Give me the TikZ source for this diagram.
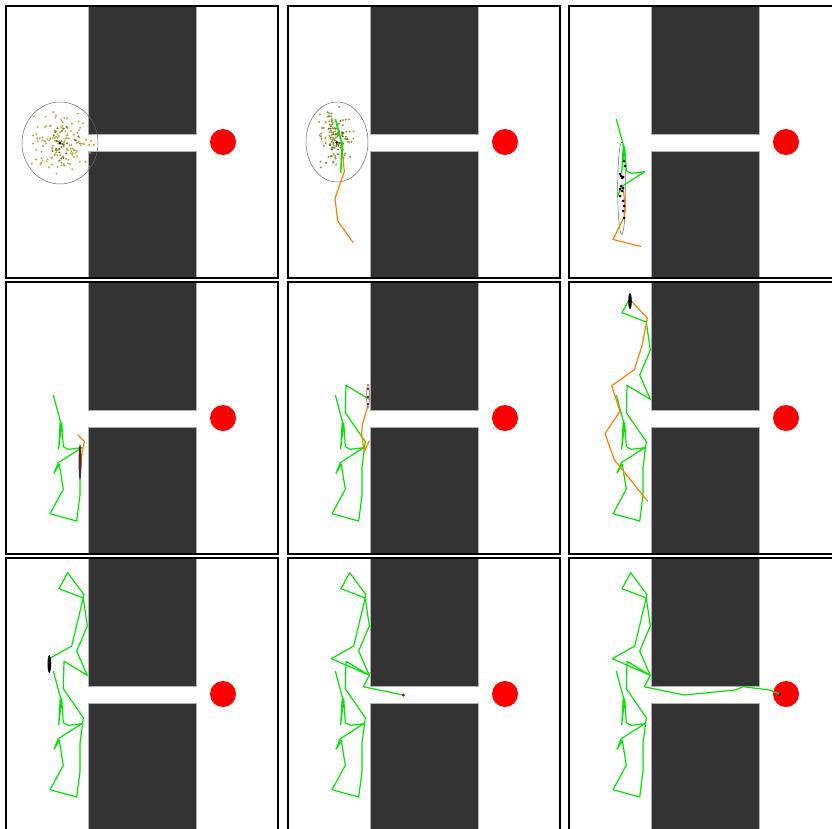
\documentclass[tikz,border=0pt]{standalone}
\usepackage{xcolor}
\usepackage{tikz}
\usetikzlibrary{calc}
\definecolor{wallgray}{HTML}{333333}
\definecolor{edgegray}{HTML}{B0B0B0}
\definecolor{goalred}{HTML}{FF0000}
\definecolor{pathgreen}{HTML}{00E600}
\definecolor{planorange}{HTML}{FF7F00}
\definecolor{particleolive}{HTML}{B5AE3E}
\definecolor{darkolive}{HTML}{6E6B25}
\definecolor{beliefgray}{HTML}{6A6A6A}
\definecolor{robotred}{HTML}{9A0F0F}
\tikzset{
  frameline/.style={draw=black,line width=2pt},
  wall/.style={fill=wallgray,draw=edgegray,line width=0.9pt},
  goal/.style={fill=goalred},
  executed/.style={pathgreen,line width=1.2pt,line join=round},
  planned/.style={planorange,line width=1.2pt,line join=round},
  belief/.style={draw=beliefgray,line width=0.5pt},
  particle/.style={fill=particleolive},
  darkparticle/.style={fill=darkolive},
  estimate/.style={fill=black}
}
% executed walk, cut where each snapshot ends
\newcommand{\walkA}{(47.3,113) -- (54.3,139) -- (52.7,166.7)}
\newcommand{\walkB}{-- (55.7,140.7) -- (57.3,164.7) -- (62.3,167.3) -- (75.7,165.7) -- (52.3,180.7) -- (48,191.3)}
\newcommand{\walkC}{-- (53.3,182.3) -- (57.3,207.3) -- (44,231.7) -- (70.7,239) -- (74,213.3) -- (74,185.7)}
\newcommand{\walkD}{-- (77.3,159.7) -- (57.3,130.7) -- (58,103.3) -- (81.3,117.3)}
\newcommand{\walkE}{-- (70.7,93) -- (81.3,68) -- (77.3,40) -- (53,30.7) -- (61.7,14.7)}
\newcommand{\walkF}{-- (78,36.7) -- (65.7,88) -- (43.3,100.7)}
\newcommand{\walkG}{-- (81.3,117.3) -- (75.3,128.7) -- (82.7,130.3) -- (115.3,137)}
\newcommand{\walkH}{-- (166,132) -- (174.3,128.7) -- (201,132) -- (211,136.3)}

\begin{document}
\begin{tikzpicture}[x=1pt,y=-1pt]
  \clip (0,0) rectangle (832,828);
  \fill[white] (0,0) rectangle (832,828);
  % the corridor with its slit, nine times
  \foreach \px/\py in {6/6,288/6,569/6,6/282,288/282,569/282,6/558,288/558,569/558}{
    \begin{scope}[shift={(\px,\py)}]
      \draw[wall] (82,0) rectangle (190,128);
      \draw[wall] (82,145) rectangle (190,272);
      \fill[goal] (217,136) circle (13);
      \draw[frameline] (0,0) rectangle (272,272);
    \end{scope}
  }

  % snapshot 1: initial particle cloud
  \begin{scope}[shift={(6,6)}]
    \begin{scope}
      \clip (54,137) ellipse [x radius=37,y radius=40];
      \pgfmathsetseed{11}
      \foreach \k in {1,...,130}{
        \pgfmathsetmacro\dx{33*(rand+rand)/2}
        \pgfmathsetmacro\dy{36*(rand+rand)/2}
        \fill[particle] (54,137) ++(\dx,\dy) circle (1.1);
      }
      \foreach \k in {1,...,25}{
        \pgfmathsetmacro\dx{20*(rand+rand)/2}
        \pgfmathsetmacro\dy{22*(rand+rand)/2}
        \fill[darkparticle] (54,137) ++(\dx,\dy) circle (1.1);
      }
      \foreach \q in {(78,138),(83,139),(88,139),(80,134),(85,135)}
        \fill[planorange!70!particleolive] \q circle (1.1);
    \end{scope}
    \draw[belief] (54,137) ellipse [x radius=38,y radius=41];
    \fill[estimate] (54,137) circle (1.5);
  \end{scope}

  % snapshot 2
  \begin{scope}[shift={(288,6)}]
    \begin{scope}
      \clip (49,136) ellipse [x radius=30,y radius=39];
      \pgfmathsetseed{23}
      \foreach \k in {1,...,90}{
        \pgfmathsetmacro\dx{20*(rand+rand)/2}
        \pgfmathsetmacro\dy{34*(rand+rand)/2}
        \fill[particleolive!85!black] (47,132) ++(\dx,\dy) circle (1.1);
      }
      \foreach \k in {1,...,35}{
        \pgfmathsetmacro\dx{16*(rand+rand)/2}
        \pgfmathsetmacro\dy{26*(rand+rand)/2}
        \fill[darkparticle] (48,134) ++(\dx,\dy) circle (1.1);
      }
    \end{scope}
    \draw[belief] (49,136) ellipse [x radius=31,y radius=40];
    \draw[planned] (53.7,137.3) -- (56.3,165.7) -- (47,192.3) -- (49.7,215) -- (65.3,236.7);
    \draw[executed,line width=1.6pt] \walkA;
    \fill[estimate] (48.7,136.3) circle (1.5);
  \end{scope}

  % snapshot 3
  \begin{scope}[shift={(569,6)}]
    \draw[belief] (52.7,182.3) ellipse [x radius=4,y radius=46];
    \draw[executed] \walkA \walkB;
    \draw[planned] (54.3,182) -- (56,200.7) -- (55,211) -- (44,233.5) -- (72,240.5);
    \foreach \q in {(55,155),(56,160),(51,168),(52,170),(53,172),(54,171),(52,180),(51,183),(54,182),(53,185),(51,190),(54,195),(55,200),(54,205),(55,212)}
      \fill[estimate] \q circle (1.5);
  \end{scope}

  % snapshot 4
  \begin{scope}[shift={(6,282)}]
    \draw[executed] \walkA \walkB \walkC;
    \draw[planned] (75,185) -- (75.7,172.7) -- (78.3,159.3) -- (71.7,152.7);
    \fill[black!80] (74,180) ellipse [x radius=1.4,y radius=18];
    \foreach \y in {166,172,178,186,192}
      \fill[robotred] (74,\y) circle (1.1);
  \end{scope}

  % snapshot 5
  \begin{scope}[shift={(288,282)}]
    \draw[executed] \walkA \walkB \walkC \walkD;
    \draw[planned] (79.7,124.3) -- (74.3,142.7) -- (73.7,152.7) -- (76.3,169.3) -- (81.3,158.7);
    \draw[belief] (80,114) ellipse [x radius=1.4,y radius=12];
    \foreach \y in {107,115,122}
      \fill[goalred!80!black] (80,\y) circle (1.4);
  \end{scope}

  % snapshot 6
  \begin{scope}[shift={(569,282)}]
    \draw[executed] \walkA \walkB \walkC \walkD \walkE;
    \draw[planned] (61,17.7) -- (78.3,36) -- (73.3,62.7) -- (65.3,87.7) -- (42.7,103.7) -- (51,129.3) -- (36,151.7) -- (45.3,177.7) -- (78.7,219.3);
    \fill[estimate] (61,19) ellipse [x radius=1.8,y radius=8];
  \end{scope}

  % snapshot 7
  \begin{scope}[shift={(6,558)}]
    \draw[executed] \walkA \walkB \walkC \walkD \walkE \walkF;
    \fill[estimate] (43.3,106) ellipse [x radius=1.8,y radius=9];
  \end{scope}

  % snapshot 8
  \begin{scope}[shift={(288,558)}]
    \draw[executed] \walkA \walkB \walkC \walkD \walkE \walkF \walkG;
    \fill[robotred] (115.3,137) circle (1.7);
  \end{scope}

  % snapshot 9: goal reached
  \begin{scope}[shift={(569,558)}]
    \draw[executed] \walkA \walkB \walkC \walkD \walkE \walkF \walkG \walkH;
    \fill[estimate] (211,136.3) circle (1.5);
  \end{scope}
\end{tikzpicture}
\end{document}
